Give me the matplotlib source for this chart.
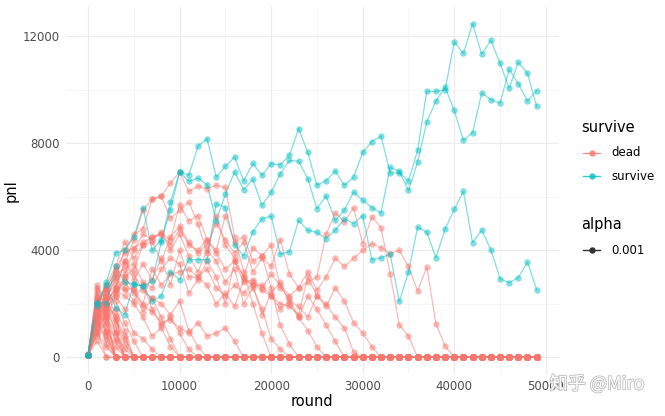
import numpy as np
import matplotlib.pyplot as plt
from matplotlib.lines import Line2D
import matplotlib.patheffects as pe

plt.rcParams['font.family'] = ['DejaVu Sans']

rounds = np.arange(0, 50000, 1000)

# survivors: full pnl path
survive_paths = [
    [100, 2030, 2800, 3900, 4000, 4490, 5600, 4000, 4400, 5500,
     6930, 6800, 7890, 8170, 6740, 7140, 7490, 6600, 7250, 6800,
     7240, 7200, 7550, 8550, 7660, 6430, 6600, 6960, 6430, 6730,
     7660, 8060, 8270, 6890, 6900, 6600, 7740, 9940, 9940, 10000,
     11790, 11360, 12470, 11330, 11850, 10990, 10060, 11030, 10620, 9380],
    [100, 2030, 2030, 3400, 2800, 2750, 2650, 2850, 4300, 5800,
     6930, 6580, 6700, 6460, 5100, 6100, 6930, 6270, 6650, 5680,
     6180, 6860, 7360, 7330, 6680, 5560, 6030, 5120, 5500, 6180,
     5870, 5600, 5400, 7100, 6950, 6240, 7300, 8800, 9580, 10100,
     9230, 8110, 8400, 9880, 9630, 9500, 10760, 10230, 9580, 9970],
    [100, 1900, 2700, 1850, 1600, 2750, 2650, 2100, 2300, 3200,
     2900, 3650, 3650, 3650, 5750, 5600, 4200, 3790, 4700, 5180,
     5280, 3850, 3950, 5120, 4750, 4670, 4440, 4750, 5180, 5000,
     5300, 3650, 3720, 3850, 2090, 3190, 4870, 4680, 3730, 4790,
     5530, 6200, 4290, 4750, 4030, 2940, 2790, 2980, 3560, 2530],
]

# dead: pnl until bankrupt, stays at 0 afterwards
dead_paths = [
    [100, 1500, 2500, 3300, 3900, 4100, 4300, 4500, 4600, 4200, 4800, 4200, 4000, 4400,
     3900, 3300, 3600, 2800, 2900, 2600, 3100, 2700, 2300, 2600, 3200, 2500, 3000, 3700,
     3400, 3700, 4000, 4250, 4100, 3880, 4000, 3400, 2480, 3380, 1260, 430],
    [100, 2000, 2700, 3400, 4300, 3700, 4200, 4300, 3600, 4500, 4900, 4300, 3900, 4200,
     5000, 4400, 3900, 4300, 3200, 3700, 3400, 4400, 3100, 2600, 2800, 3000, 4600, 5400,
     5060, 5600, 4250, 5250, 4850, 3130, 1200, 800],
    [100, 1200, 2200, 3000, 4000, 4600, 4800, 5900, 6020, 6520, 6930, 6200, 6400, 6300,
     6430, 6350, 4500, 3200, 2000, 900],
    [100, 1800, 2200, 2500, 3000, 3300, 4200, 4500, 4600, 4400, 5700, 5100, 5300, 4400,
     4000, 5300, 4300, 4500, 3600, 3800, 4200, 2600, 2200, 1500, 1000, 400],
    [100, 2100, 2600, 3200, 3600, 2900, 3500, 2900, 3700, 2700, 4000, 3000, 3000, 3300,
     2600, 2300, 2700, 2400, 2800, 2500, 2300, 1800, 2100, 1900, 1500, 2300, 1900, 2600,
     2100, 1300, 900, 400],
    [100, 1200, 2000, 2600, 3600, 3100, 2500, 2200, 2000, 1600, 2100, 1000, 400],
    [100, 1500, 2300, 2700, 2500, 2600, 1900, 1700, 1300, 1400, 1100, 900, 1300, 800,
     900, 1100, 600],
    [100, 900, 1700, 2500, 2300, 2000, 1500, 800, 1100, 400],
    [100, 1700, 2400, 3100, 3300, 3500, 2800, 2600, 3300, 3700, 3500, 2400, 2900, 3600,
     3000, 2000, 3600, 3000, 2700, 1600, 2400, 2800, 2000, 1500, 2300, 1800, 1200, 600],
    [100, 1600, 2000, 2400, 2800, 2400, 2000, 3300, 2700, 3100, 3200, 3300, 3000, 2700,
     2000, 2400, 1900, 2900, 2700, 2700, 2300, 2000, 1900, 1600, 3000, 2300, 2000, 1500,
     1100, 200],
    [100, 1900, 2500, 3000, 3100, 4000, 4600, 4400, 4700, 4000, 4600, 3800, 3200, 4000,
     3600, 2800, 3300, 2000, 2600, 1800, 700, 300],
    [100, 1300, 2000, 2600, 3500, 4400, 5500, 5900, 6020, 5200, 5500, 5800, 5000, 3900,
     5300, 4200, 3700, 3000, 4100, 3800, 2600, 1200, 500],
    [100, 2000, 1500, 2300, 1800, 900, 700, 300],
    [100, 1400, 2200, 2900, 2600, 2100, 2700, 1800, 1200, 1500, 900, 300],
    [100, 1100, 1800, 2300, 3000, 2500, 1700, 2200, 1500, 700],
    [100, 2700, 1800],
    [100, 2100, 2000, 1200],
    [100, 1900, 900],
    [100, 1700, 2100, 1400, 700],
    [100, 1500, 500],
    [100, 2200, 1600],
    [100, 1200, 1800, 1000],
    [100, 1000],
    [100, 2000, 2600, 1500, 800],
    [100, 800, 1400],
    [100, 1800, 1200, 700],
    [100, 2400, 1500, 900, 300],
    [100, 600],
    [100, 1600, 2300, 2100, 1300, 600],
    [100, 1400, 1000],
    [100, 2000, 1900, 1600],
    [100, 2500, 1300],
    [100, 1300, 700],
    [100, 2300, 2000, 900],
    [100, 1700, 800],
    [100, 1100, 1600, 600],
    [100, 2600, 2200, 1400, 500],
    [100, 900, 400],
    [100, 1900, 1500, 1800, 1000],
    [100, 2200, 1000, 400],
]

DEAD = "#F8766D"
SURV = "#00BFC4"
ALPHA = 0.5

fig = plt.figure(figsize=(6.65, 4.16), dpi=100)
ax = fig.add_axes([0.0987, 0.101, 0.742, 0.882])

series = []
for p in dead_paths:
    vals = np.zeros(len(rounds))
    vals[:len(p)] = p
    series.append((vals, DEAD))
for p in survive_paths:
    series.append((np.array(p, dtype=float), SURV))

for vals, c in series:
    ax.plot(rounds, vals, color=c, lw=0.9, alpha=ALPHA, zorder=2)
for vals, c in series:
    ax.plot(rounds, vals, ls="none", marker="o", ms=4.6, mew=0, color=c,
            alpha=ALPHA, zorder=3)

ax.set_xlim(-2450, 51450)
ax.set_ylim(-623, 13093)
ax.set_xticks([0, 10000, 20000, 30000, 40000, 50000])
ax.set_yticks([0, 4000, 8000, 12000])
ax.set_xticks(np.arange(5000, 50000, 10000), minor=True)
ax.set_yticks([2000, 6000, 10000], minor=True)
ax.grid(which="major", color="#EBEBEB", lw=0.8)
ax.grid(which="minor", color="#F2F2F2", lw=0.5)
ax.set_axisbelow(True)
for s in ax.spines.values():
    s.set_visible(False)
ax.tick_params(which="both", length=0, labelsize=8.5, labelcolor="#4D4D4D", pad=4)
ax.set_xlabel("round", fontsize=10.5, labelpad=1)
ax.set_ylabel("pnl", fontsize=10.5, labelpad=3)

# legends
def px(x, y):
    return x / 665, 1 - y / 416

fig.text(*px(581, 127), "survive", fontsize=10.5, va="center", ha="left")
for y, c, lab in [(153, DEAD, "dead"), (176, SURV, "survive")]:
    x0, y0 = px(583, y)
    x1, _ = px(600, y)
    fig.add_artist(Line2D([x0, x1], [y0, y0], color=c, lw=1.0, alpha=0.8,
                          transform=fig.transFigure))
    fig.add_artist(Line2D([(x0 + x1) / 2], [y0], marker="o", ms=4.6, mew=0,
                          color=c, alpha=0.8, transform=fig.transFigure))
    fig.text(*px(611, y), lab, fontsize=8.5, va="center", ha="left")

fig.text(*px(581, 225), "alpha", fontsize=10.5, va="center", ha="left")
x0, y0 = px(583, 250)
x1, _ = px(600, 250)
fig.add_artist(Line2D([x0, x1], [y0, y0], color="#333333", lw=1.0,
                      transform=fig.transFigure))
fig.add_artist(Line2D([(x0 + x1) / 2], [y0], marker="o", ms=4.6, mew=0,
                      color="#333333", transform=fig.transFigure))
fig.text(*px(611, 250), "0.001", fontsize=8.5, va="center", ha="left")

# watermark
fig.text(*px(597, 384), "知乎 @Miro", fontsize=13, color="white", ha="center",
         va="center", family=["Noto Sans CJK SC", "DejaVu Sans"],
         path_effects=[pe.withStroke(linewidth=1.2, foreground="#BBBBBB")])

fig.savefig("out.png", dpi=100)
